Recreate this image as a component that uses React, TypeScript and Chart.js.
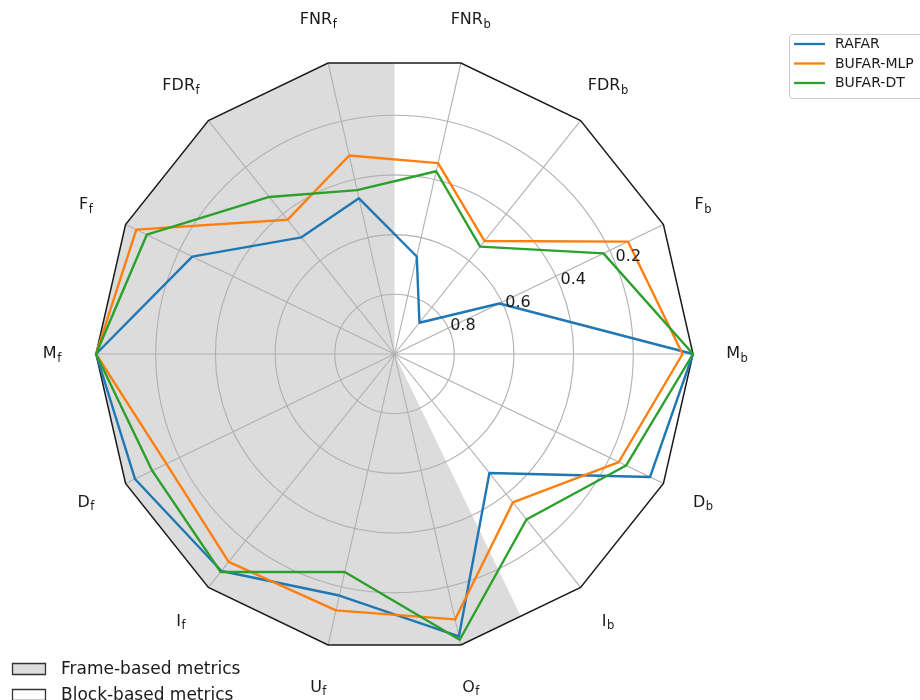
import React, { useEffect, useRef } from "react";
import { Chart, registerables } from "chart.js";

Chart.register(...registerables);

// ---------- data ----------
const metricLabels = [
  "M_b", "D_b", "I_b", "O_f", "U_f", "I_f", "D_f",
  "M_f", "F_f", "FDR_f", "FNR_f", "FNR_b", "FDR_b", "F_b",
];
const rafar = [0.0, 0.05, 0.49, 0.03, 0.17, 0.07, 0.035, 0.0, 0.248, 0.5, 0.465, 0.665, 0.866, 0.61];
const bufarMlp = [0.035, 0.166, 0.364, 0.088, 0.119, 0.109, 0.152, 0.0, 0.04, 0.425, 0.318, 0.344, 0.516, 0.132];
const bufarDt = [0.0, 0.139, 0.291, 0.018, 0.251, 0.066, 0.099, 0.0, 0.079, 0.327, 0.437, 0.372, 0.54, 0.223];
const seriesNames = ["RAFAR", "BUFAR-MLP", "BUFAR-DT"];
const seriesColors = ["#1f77b4", "#ff7f0e", "#2ca02c"];
const tickValues = [0.2, 0.4, 0.6, 0.8];
const regionNames = ["Frame-based metrics", "Block-based metrics"];

// ---------- styles ----------
const FONT = "'DejaVu Sans', sans-serif";
const FRAME_FILL = "#dcdcdc";
const TEXT = "#1a1a1a";
const GRID = "#b0b0b0";

const splitLabel = (s: string) => {
  const [m, sub] = s.split("_");
  return { m, sub: sub || "" };
};

const decorPlugin = {
  id: "decor",
  beforeDraw(chart: any) {
    const s = chart.scales.r;
    const ctx = chart.ctx as CanvasRenderingContext2D;
    const labels: string[] = chart.data.labels;
    const n = labels.length;
    const R = s.getDistanceFromCenterForValue(0);
    const V = (i: number) => s.getPointPosition(((i % n) + n) % n, R);
    const isFrame = (i: number) => labels[((i % n) + n) % n].endsWith("_f");
    let start = 0;
    for (let i = 0; i < n; i++) if (isFrame(i) && !isFrame(i - 1)) start = i;
    let end = start;
    while (isFrame(end + 1) && end - start < n) end++;
    const a = V(start - 1), b = V(start), c = V(end), d = V(end + 1);
    ctx.save();
    ctx.beginPath();
    ctx.moveTo(s.xCenter, s.yCenter);
    ctx.lineTo((a.x + b.x) / 2, (a.y + b.y) / 2);
    for (let i = start; i <= end; i++) {
      const p = V(i);
      ctx.lineTo(p.x, p.y);
    }
    ctx.lineTo((c.x + d.x) / 2, (c.y + d.y) / 2);
    ctx.closePath();
    ctx.fillStyle = FRAME_FILL;
    ctx.fill();
    ctx.restore();
  },
  beforeDatasetsDraw(chart: any) {
    const s = chart.scales.r;
    const ctx = chart.ctx as CanvasRenderingContext2D;
    const n = chart.data.labels.length;
    const R = s.getDistanceFromCenterForValue(0);
    ctx.save();
    ctx.beginPath();
    for (let i = 0; i < n; i++) {
      const p = s.getPointPosition(i, R);
      if (i === 0) ctx.moveTo(p.x, p.y);
      else ctx.lineTo(p.x, p.y);
    }
    ctx.closePath();
    ctx.strokeStyle = "#1a1a1a";
    ctx.lineWidth = 1.5;
    ctx.lineJoin = "miter";
    ctx.stroke();
    ctx.restore();
  },
  afterDraw(chart: any) {
    const s = chart.scales.r;
    const ctx = chart.ctx as CanvasRenderingContext2D;
    const labels: string[] = chart.data.labels;
    const n = labels.length;
    const R = s.getDistanceFromCenterForValue(0);
    ctx.save();
    ctx.fillStyle = TEXT;
    ctx.textBaseline = "alphabetic";
    ctx.textAlign = "left";

    // point labels with subscripts
    for (let i = 0; i < n; i++) {
      const { m, sub } = splitLabel(labels[i]);
      const p = s.getPointPosition(i, R + 44);
      ctx.font = `16px ${FONT}`;
      const wm = ctx.measureText(m).width;
      ctx.font = `11.5px ${FONT}`;
      const ws = ctx.measureText(sub).width;
      const total = wm + ws + 0.5;
      const x0 = p.x - total / 2;
      const base = p.y + 4;
      ctx.font = `16px ${FONT}`;
      ctx.fillText(m, x0, base);
      ctx.font = `11.5px ${FONT}`;
      ctx.fillText(sub, x0 + wm + 0.5, base + 3.5);
    }

    // radial tick labels at 22.5 degrees
    const ang = (22.5 * Math.PI) / 180;
    ctx.font = `16px ${FONT}`;
    for (const v of tickValues) {
      const dist = s.getDistanceFromCenterForValue(v);
      const x = s.xCenter + dist * Math.cos(ang);
      const y = s.yCenter - dist * Math.sin(ang);
      ctx.fillText(v.toFixed(1), x + 0.5, y - 1.5);
    }

    // series legend (upper right)
    ctx.beginPath();
    (ctx as any).roundRect(789.5, 34.5, 140, 64, 3);
    ctx.fillStyle = "rgba(255,255,255,0.8)";
    ctx.fill();
    ctx.strokeStyle = "#cccccc";
    ctx.lineWidth = 1;
    ctx.stroke();
    ctx.font = `14px ${FONT}`;
    ctx.textBaseline = "middle";
    chart.data.datasets.forEach((ds: any, k: number) => {
      const y = 44 + k * 19.5;
      ctx.beginPath();
      ctx.moveTo(794, y);
      ctx.lineTo(825, y);
      ctx.strokeStyle = ds.borderColor;
      ctx.lineWidth = 2.3;
      ctx.stroke();
      ctx.fillStyle = TEXT;
      ctx.fillText(ds.label, 835, y + 0.5);
    });

    // region legend (bottom left)
    ctx.font = `17px ${FONT}`;
    regionNames.forEach((name, k) => {
      const top = 663 + k * 26;
      ctx.beginPath();
      ctx.rect(12.5, top + 0.5, 33, 11);
      ctx.fillStyle = k === 0 ? FRAME_FILL : "#ffffff";
      ctx.fill();
      ctx.strokeStyle = "#333333";
      ctx.lineWidth = 1.3;
      ctx.stroke();
      ctx.fillStyle = TEXT;
      ctx.fillText(name, 61, top + 6.5);
    });
    ctx.restore();
  },
};

export default function App() {
  const ref = useRef<HTMLCanvasElement | null>(null);

  useEffect(() => {
    if (!ref.current) return;
    const series = [rafar, bufarMlp, bufarDt];
    const chart = new Chart(ref.current, {
      type: "radar",
      data: {
        labels: metricLabels,
        datasets: series.map((vals, k) => ({
          label: seriesNames[k],
          data: vals,
          borderColor: seriesColors[k],
          backgroundColor: "transparent",
          fill: false,
          borderWidth: 2.4,
          pointRadius: 0,
          pointHoverRadius: 0,
          tension: 0,
          borderJoinStyle: "round" as const,
          order: series.length - k,
        })),
      },
      options: {
        responsive: false,
        maintainAspectRatio: false,
        animation: false,
        events: [],
        layout: { padding: 0 },
        plugins: {
          legend: { display: false },
          tooltip: { enabled: false },
          title: { display: false },
        },
        scales: {
          r: {
            min: 0,
            max: 1,
            reverse: true,
            startAngle: 90,
            ticks: { display: false, stepSize: 0.2 },
            pointLabels: { display: false },
            grid: {
              circular: true,
              color: (c: any) =>
                c.tick && Math.abs(c.tick.value) < 1e-6 ? "rgba(0,0,0,0)" : GRID,
              lineWidth: 1.1,
            },
            angleLines: { display: true, color: GRID, lineWidth: 1.1 },
            afterFit: (scale: any) => {
              scale.xCenter = 394.5;
              scale.yCenter = 354;
              scale.drawingArea = 298.5;
            },
          },
        },
      },
      plugins: [decorPlugin],
    });
    return () => chart.destroy();
  }, []);

  return (
    <div style={{ position: "fixed", left: 0, top: 0, width: 920, height: 700, background: "#ffffff" }}>
      <canvas ref={ref} width={920} height={700} style={{ display: "block" }} />
    </div>
  );
}
